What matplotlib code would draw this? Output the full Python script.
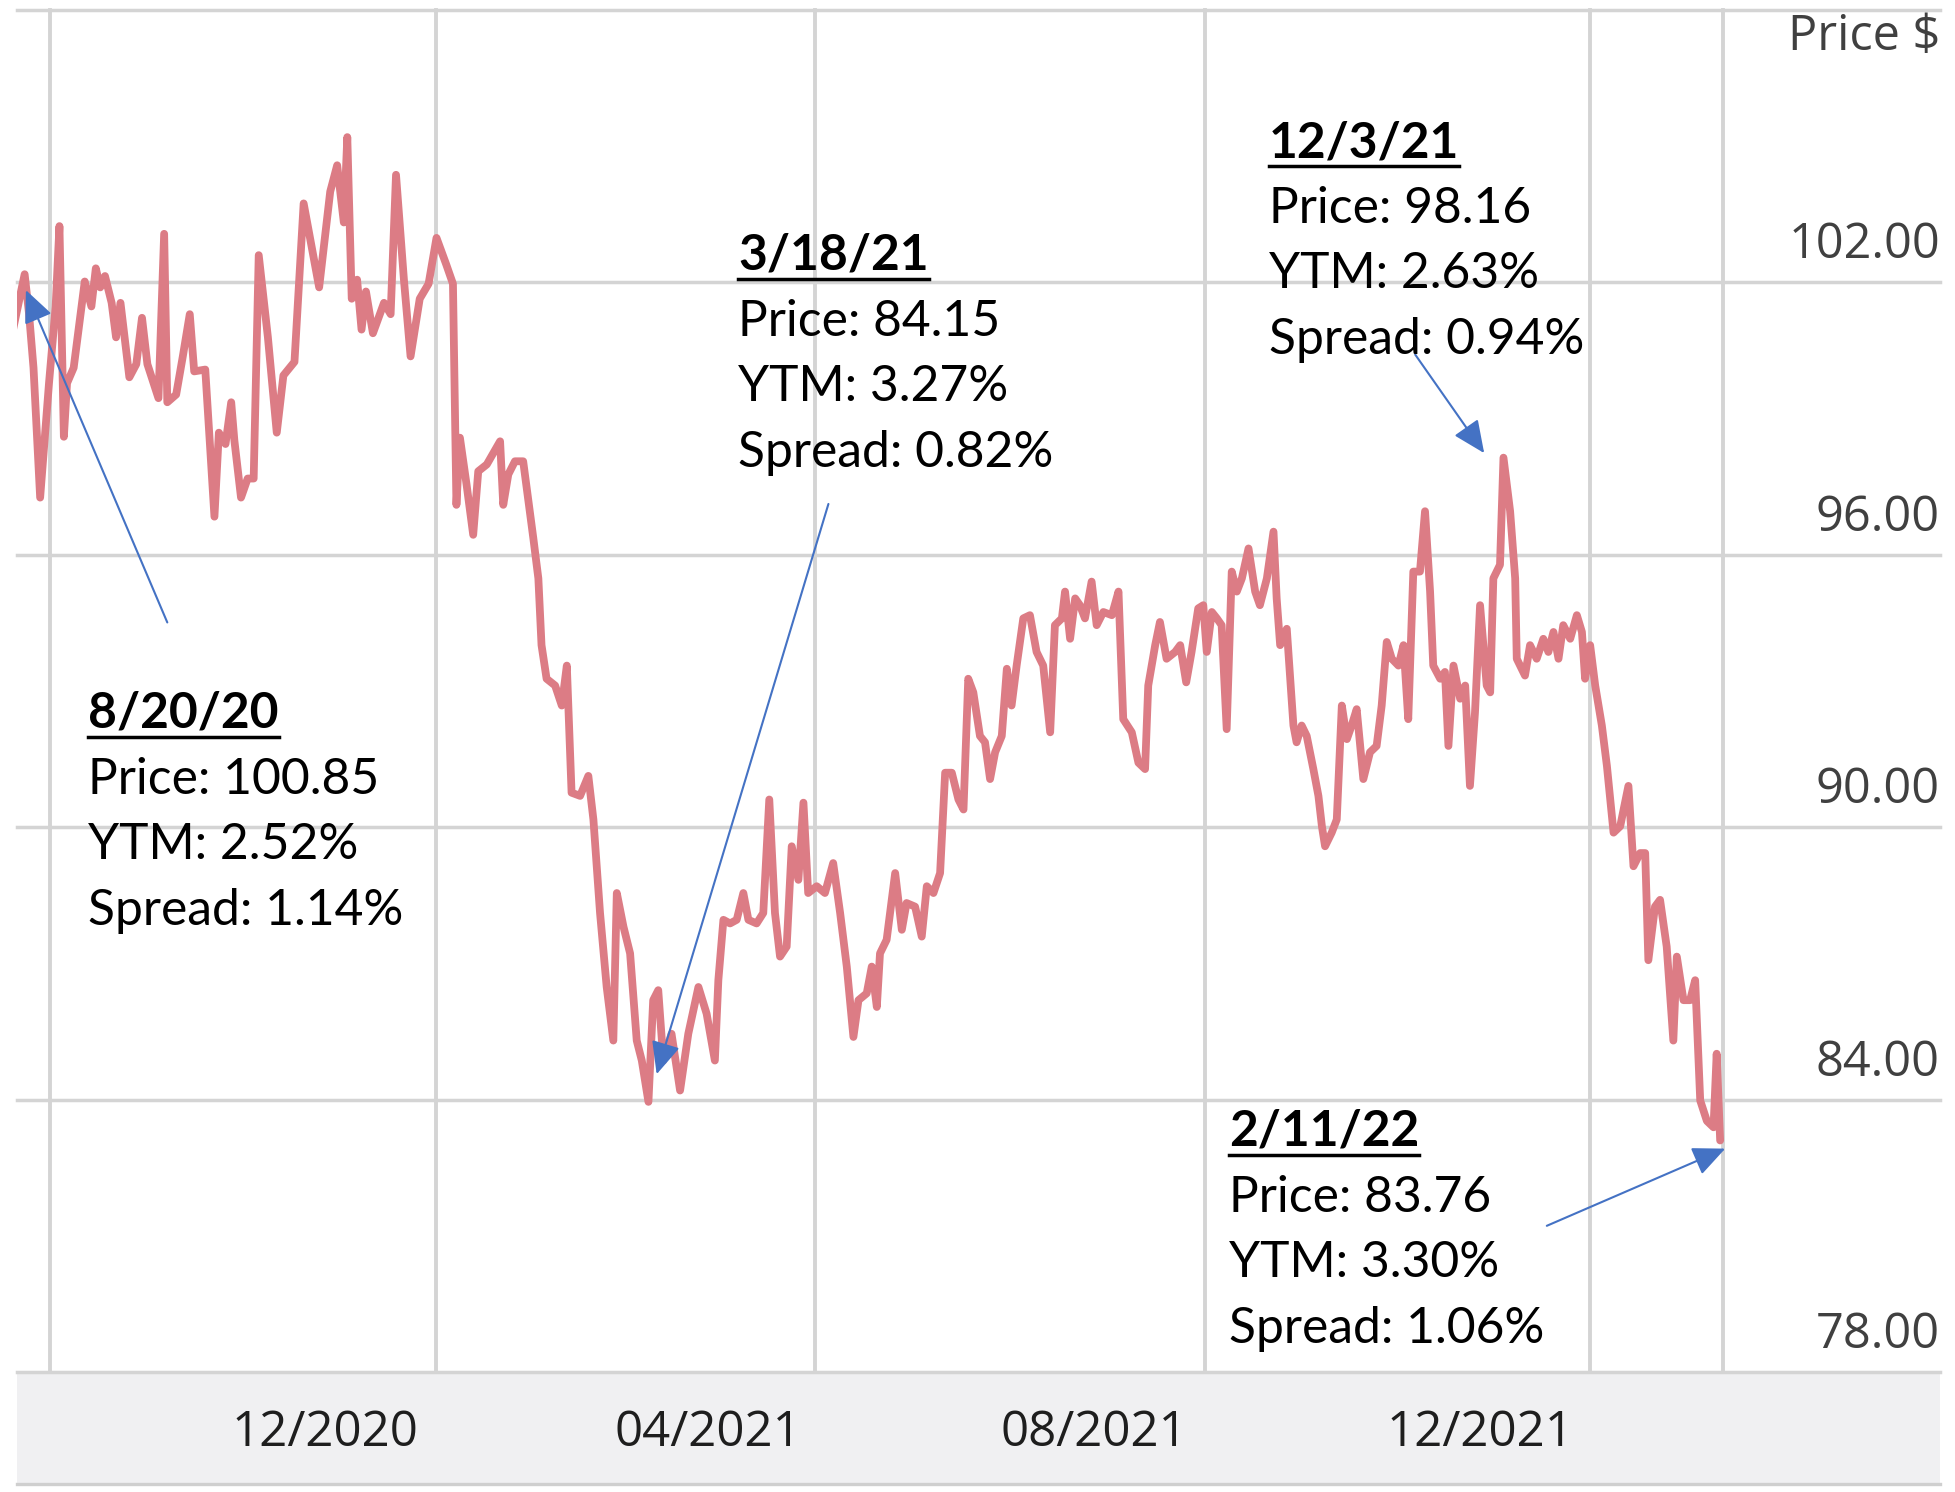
import numpy as np
import pandas as pd
import matplotlib
matplotlib.use("Agg")
import matplotlib.pyplot as plt
import matplotlib.dates as mdates
from matplotlib.transforms import ScaledTranslation, IdentityTransform, blended_transform_factory
from matplotlib.lines import Line2D
from matplotlib.patches import Rectangle

# ---------------- data ----------------
START = "2020-08-20"
# days after START
day_offsets = [
    0, 4.0, 5.4, 6.8, 8.9, 11.7, 13.8, 15.0, 16.4, 17.4, 19.5, 23.0, 25.1, 26.5, 27.9, 29.4,
    31.5, 32.9, 34.3, 37.1, 39.3, 41.1, 42.8, 46.3, 48.1, 49.1, 51.9, 54.0, 56.2, 57.6, 61.1,
    64.0, 65.4, 67.5, 69.3, 70.3, 72.4, 74.5, 76.4, 78.0, 80.9, 83.7, 85.8, 89.3, 92.2, 97.1,
    100.6, 102.8, 104.9, 106.0, 107.4, 109.1, 110.5, 111.9, 114.1, 117.6, 119.7, 121.4, 123.9,
    126.0, 128.9, 131.7, 134.2, 137.3, 139.4,
    140.5, 141.6, 143.7, 145.8, 147.4, 150.1, 154.3, 155.3, 156.9, 159.0, 161.6, 164.8, 166.4,
    167.4, 169.0, 171.7, 173.8, 175.4, 176.9, 179.6, 182.2, 183.8, 185.9, 188.0, 190.1, 191.2,
    193.3, 195.4, 197.5, 199.1, 201.2, 202.7, 204.3, 205.9, 208.5, 211.2, 213.8, 217.0, 219.6,
    222.2, 223.3, 224.9, 227.0, 229.1, 231.2, 232.8, 235.4, 237.5, 239.4, 241.2, 242.8, 244.9,
    246.5, 248.6, 250.2, 251.7, 254.4, 257.0, 259.6, 261.8, 263.9, 266.0, 267.6, 270.2, 271.8,
    273.4, 274.4, 276.5, 279.2, 281.3, 282.8, 285.5, 287.6, 289.2, 291.3, 293.4, 295.0, 297.1,
    299.2, 300.8, 302.3, 303.9, 306.0, 307.6, 309.2, 310.8, 312.9, 314.5, 316.0, 317.6, 319.7,
    321.8, 323.9, 326.0, 328.2, 329.7, 331.9,
    332.9, 334.5, 336.1, 337.6, 339.2, 341.3, 342.9, 345.0, 347.7, 349.8, 351.3, 354.0, 356.1,
    358.2, 359.2, 361.4, 362.9, 365.0, 367.7, 369.3, 371.2, 372.9, 375.0, 376.6, 377.7, 379.3,
    380.9, 382.4, 384.0, 385.6, 387.2, 388.8, 390.9, 393.0, 394.5, 396.7, 398.8, 399.8, 400.9,
    403.0, 405.1, 406.1, 407.7, 409.3, 411.4, 413.0, 414.1, 415.1, 417.2, 418.8, 420.4, 422.0,
    423.5, 425.1, 426.2, 427.2, 429.3, 431.4, 433.0, 434.6, 436.2, 438.3, 439.9, 441.4,
    443.0, 445.1, 446.7, 448.3, 449.3, 451.5, 453.0, 454.1, 455.7, 457.8, 459.4, 460.9, 462.5,
    464.1, 466.2, 467.3, 468.3, 470.4, 471.5, 473.6, 475.2, 475.7, 478.3, 479.9, 482.0, 484.1,
    485.7, 487.3, 488.9, 490.4, 492.6, 494.7, 496.3, 497.3, 498.9, 500.5, 502.6, 504.2, 506.3,
    508.4, 511.0, 512.6, 514.7, 516.3, 517.3, 519.4, 521.0, 523.1, 525.2, 526.3, 528.4, 530.5,
    532.1, 533.7, 535.8, 537.9, 538.9, 540.0,
]
prices = [
    100.85, 102.18, 101.30, 100.12, 97.26, 99.78, 101.47, 103.24, 98.60, 99.78, 100.12, 102.02,
    101.47, 102.31, 101.89, 102.14, 101.55, 100.79, 101.55, 99.91, 100.20, 101.22, 100.20, 99.45,
    103.07, 99.36, 99.53, 100.37, 101.30, 100.04, 100.08, 96.84, 98.69, 98.44, 99.36, 98.52,
    97.26, 97.68, 97.68, 102.60, 100.79, 98.69, 99.95, 100.25, 103.74, 101.89, 104.00, 104.58,
    103.32, 105.20, 101.64, 102.06, 100.96, 101.80, 100.88, 101.55, 101.30, 104.37, 102.06,
    100.37, 101.64, 101.97, 102.98, 102.39, 101.97,
    97.10, 98.58, 97.55, 96.44, 97.84, 97.99, 98.50, 97.10, 97.77, 98.06, 98.06, 96.37, 95.48,
    94.01, 93.27, 93.12, 92.68, 93.56, 90.76, 90.69, 91.13, 90.17, 88.11, 86.48, 85.30, 88.55,
    87.81, 87.22, 85.30, 84.86, 83.95, 86.19, 86.41, 84.86, 85.45, 84.20, 85.45, 86.48, 85.89,
    84.86, 86.63, 87.96, 87.88, 87.96, 88.55, 87.96, 87.88, 88.11, 90.61, 88.11, 87.15, 87.37,
    89.58, 88.84, 90.54, 88.55, 88.70, 88.55, 89.21, 88.11, 86.93, 85.38, 86.19, 86.34, 86.93,
    86.04, 87.22, 87.52, 88.99, 87.74, 88.33, 88.25, 87.59, 88.70, 88.55, 88.99, 91.20, 91.20,
    90.61, 90.39, 93.27, 92.97, 92.01, 91.87, 91.06, 91.65, 92.01, 93.49, 92.68, 93.56, 94.60,
    94.67, 93.86, 93.56, 92.09, 94.45, 94.60,
    95.19, 94.15, 95.04, 94.89, 94.60, 95.41, 94.45, 94.74, 94.67, 95.19, 92.38, 92.09, 91.42,
    91.28, 93.12, 94.01, 94.52, 93.71, 93.86, 94.01, 93.19, 93.86, 94.82, 94.89, 93.86, 94.74,
    94.60, 94.45, 92.16, 95.63, 95.19, 95.48, 96.14, 95.19, 94.89, 95.48, 96.51, 95.04, 94.01,
    94.37, 92.24, 91.87, 92.24, 92.01, 91.28, 90.69, 90.02, 89.58, 89.88, 90.17, 92.68, 91.94,
    92.24, 92.60, 91.79, 91.06, 91.65, 91.79, 92.68, 94.08, 93.71, 93.56, 94.01, 92.38,
    95.63, 95.63, 96.96, 95.19, 93.56, 93.27, 93.42, 91.79, 93.56, 92.83, 93.12, 90.91, 92.53,
    94.89, 93.12, 92.97, 95.48, 95.78, 98.14, 96.96, 95.48, 93.71, 93.34, 94.01, 93.71, 94.15,
    93.86, 94.30, 93.71, 94.45, 94.15, 94.67, 94.30, 93.27, 94.01, 93.12, 92.24, 91.35, 89.88,
    90.02, 90.91, 89.14, 89.43, 89.43, 87.07, 88.25, 88.40, 87.37, 85.30, 87.15, 86.19, 86.19,
    86.63, 83.98, 83.53, 83.39, 85.01, 83.10,
]

ytick_values = [78, 84, 90, 96, 102]
ytick_labels = ["78.00", "84.00", "90.00", "96.00", "102.00"]
xtick_months = ["2020-12-01", "2021-04-01", "2021-08-01", "2021-12-01"]
xtick_labels = ["12/2020", "04/2021", "08/2021", "12/2021"]
vgrid_dates = ["2020-09-01", "2021-01-01", "2021-05-01", "2021-09-01", "2022-01-01", "2022-02-12"]
y_range = (78, 108)
x_range = ("2020-08-21 14:00", "2022-04-21 12:00")
y_axis_title = "Price $"

ann_dates = ["8/20/20", "3/18/21", "12/3/21", "2/11/22"]
ann_prices = ["100.85", "84.15", "98.16", "83.76"]
ann_ytm = ["2.52%", "3.27%", "2.63%", "3.30%"]
ann_spread = ["1.14%", "0.82%", "0.94%", "1.06%"]
arrow_tip_days = [4.4, 203.8, 465.4, 541.6]
arrow_tip_prices = [101.83, 84.56, 98.24, 82.92]
arrow_tail_days = [49.1, 258.1, 443.6, 485.2]
arrow_tail_prices = [94.51, 97.12, 100.41, 81.22]

# ---------------- layout (figure pixels) ----------------
W, H = 1956, 1492
AX_L, AX_R, AX_T, AX_B = 17, 1940, 10, 1372
BAND_BOTTOM = 1484
block_left_px = [88, 738, 1269, 1229]
block_title_baseline_px = [728, 270, 157, 1146]
LINE_PITCH = 65.6

LINE_COLOR = "#dc7c85"
GRID_COLOR = "#d4d4d4"
ARROW_COLOR = "#4472C4"
ANN_FONT = ["Lato", "DejaVu Sans"]
TICK_FONT = ["Open Sans", "DejaVu Sans"]
ANN_SIZE = 35.8

fig = plt.figure(figsize=(W / 100, H / 100), dpi=100)
fig.patch.set_facecolor("white")
ax = fig.add_axes([AX_L / W, 1 - AX_B / H, (AX_R - AX_L) / W, (AX_B - AX_T) / H])
for s in ax.spines.values():
    s.set_visible(False)

def to_num(offsets):
    ts = pd.Timestamp(START) + pd.to_timedelta(np.asarray(offsets, dtype=float), unit="D")
    return mdates.date2num(ts.values)

x = to_num(day_offsets)
ax.set_xlim(mdates.date2num(pd.to_datetime(list(x_range)).values))
ax.set_ylim(*y_range)

# grid lines
for v in ytick_values + [y_range[1]]:
    ax.axhline(v, color=GRID_COLOR, lw=2.5, clip_on=False, zorder=1)
for d in mdates.date2num(pd.to_datetime(vgrid_dates).values):
    ax.axvline(d, color=GRID_COLOR, lw=2.8, clip_on=False, zorder=1)

# price line
ax.plot(x, prices, color=LINE_COLOR, lw=5.6, solid_joinstyle="round",
        solid_capstyle="round", zorder=3)

# y labels (inside, right aligned, above gridlines)
ax.set_yticks([])
ylab_tr = blended_transform_factory(ax.transAxes, ax.transData) + \
    ScaledTranslation(0, 24 / 100, fig.dpi_scale_trans)
for v, lab in zip(ytick_values, ytick_labels):
    ax.text(1.0, v, lab, transform=ylab_tr, ha="right", va="baseline",
            fontsize=35, family=TICK_FONT, color="#404040", zorder=4)
ax.text(1.0, 1.0, y_axis_title,
        transform=ax.transAxes + ScaledTranslation(0, -40.5 / 100, fig.dpi_scale_trans),
        ha="right", va="baseline", fontsize=35, family=TICK_FONT, color="#404040")

# x tick labels
ax.tick_params(axis="x", length=0, pad=26)
ax.set_xticks(mdates.date2num(pd.to_datetime(xtick_months).values))
ax.set_xticklabels(xtick_labels, fontsize=35.5, family=TICK_FONT, color="#1e1e1e")
for lab in ax.get_xticklabels():
    lab.set_transform(lab.get_transform() + ScaledTranslation(-12.5 / 100, 0, fig.dpi_scale_trans))

# grey band under the plot
fig.add_artist(Rectangle((AX_L / W, 1 - BAND_BOTTOM / H), (AX_R - AX_L) / W,
                         (BAND_BOTTOM - AX_B) / H, transform=fig.transFigure,
                         facecolor="#f0f0f2", edgecolor="none", zorder=-1))
fig.add_artist(Line2D([AX_L / W, AX_R / W], [1 - BAND_BOTTOM / H] * 2,
                      transform=fig.transFigure, color="#cfcfcf", lw=2.4, zorder=-1))

# arrows
tips_x = to_num(arrow_tip_days)
tails_x = to_num(arrow_tail_days)
for i in range(len(ann_dates)):
    ax.annotate("", xy=(tips_x[i], arrow_tip_prices[i]),
                xytext=(tails_x[i], arrow_tail_prices[i]),
                arrowprops=dict(arrowstyle="-|>,head_length=0.8,head_width=0.36",
                                color=ARROW_COLOR, lw=1.5, shrinkA=0, shrinkB=0,
                                mutation_scale=25),
                annotation_clip=False, zorder=5)

# annotation blocks
title_texts = []
for i in range(len(ann_dates)):
    xl = block_left_px[i] / W
    b0 = block_title_baseline_px[i]
    t = fig.text(xl, 1 - b0 / H, ann_dates[i], fontsize=ANN_SIZE, fontweight="bold",
                 family=ANN_FONT, ha="left", va="baseline", color="black")
    title_texts.append(t)
    lines = [f"Price: {ann_prices[i]}", f"YTM: {ann_ytm[i]}", f"Spread: {ann_spread[i]}"]
    for k, s in enumerate(lines):
        fig.text(xl, 1 - (b0 + LINE_PITCH * (k + 1)) / H, s, fontsize=ANN_SIZE,
                 family=ANN_FONT, ha="left", va="baseline", color="black")

fig.canvas.draw()
renderer = fig.canvas.get_renderer()
for t, b in zip(title_texts, block_title_baseline_px):
    bb = t.get_window_extent(renderer)
    yl = H - (b + 9)
    fig.add_artist(Line2D([bb.x0, bb.x1], [yl, yl], transform=IdentityTransform(),
                          color="black", lw=2.5))

fig.savefig("out.png", dpi=100, facecolor="white")
